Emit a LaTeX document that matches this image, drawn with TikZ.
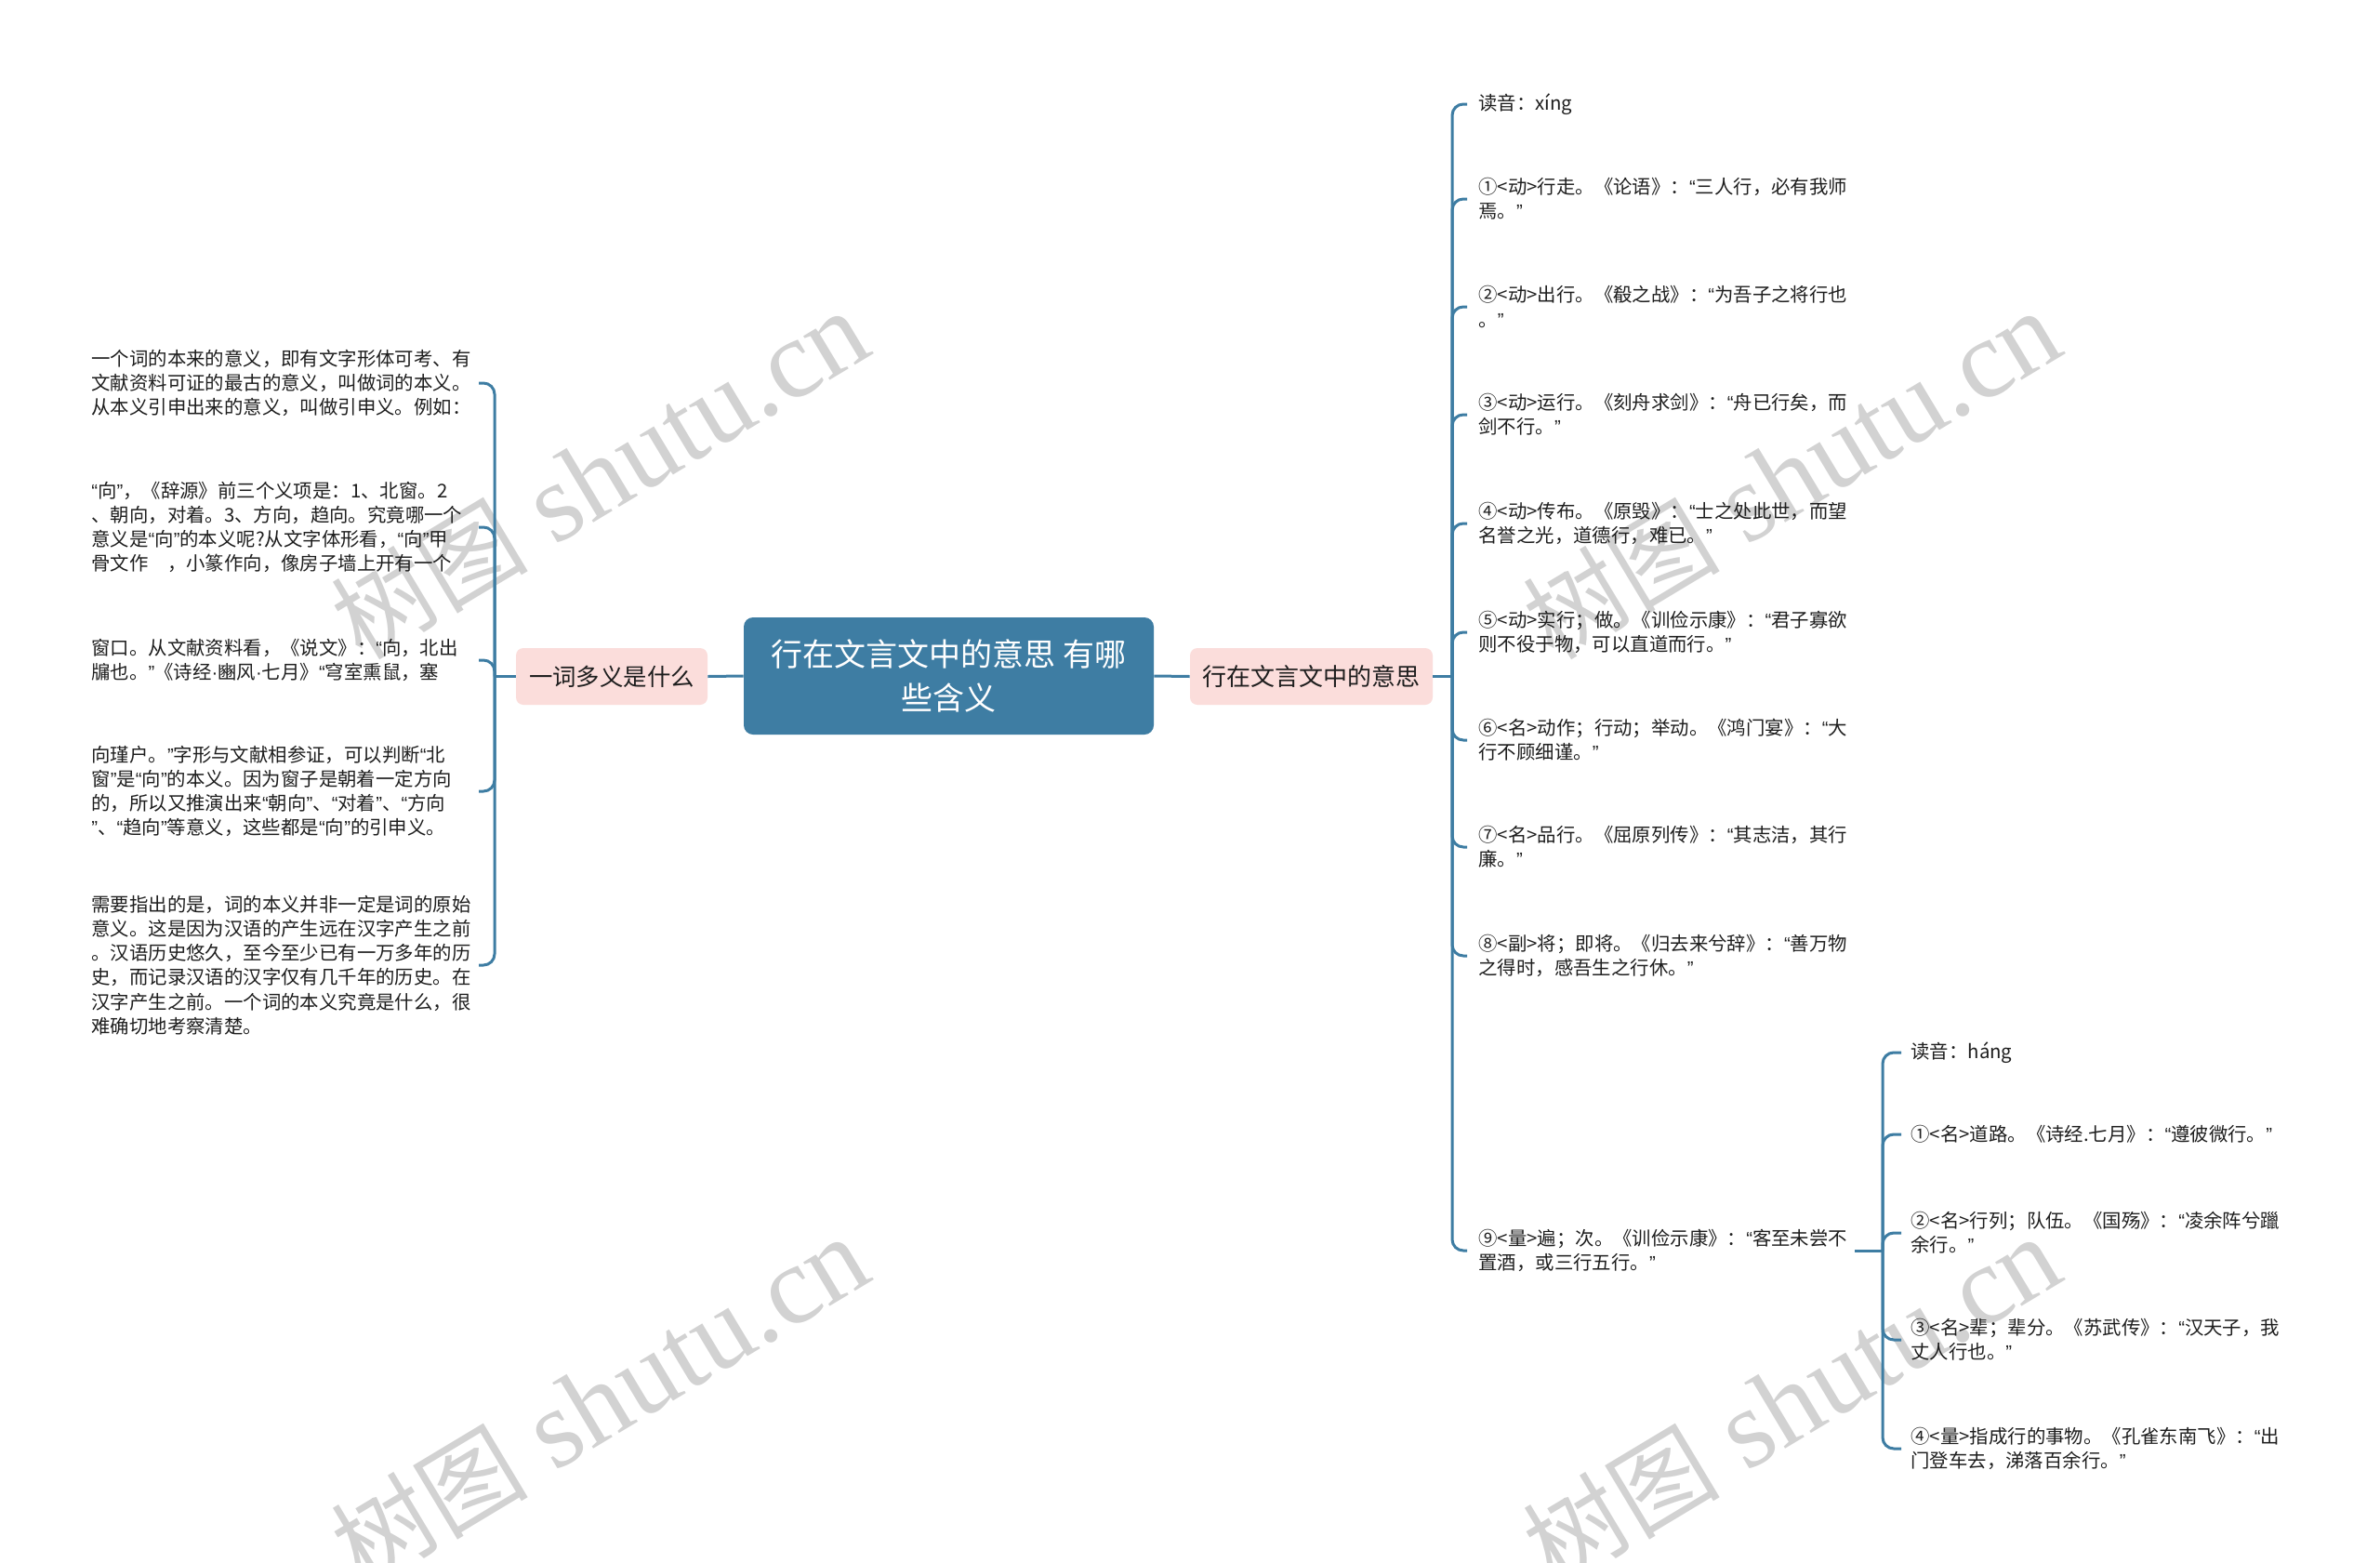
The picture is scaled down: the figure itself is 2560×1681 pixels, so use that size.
\documentclass[tikz,border=0pt]{standalone}
\usepackage{fontspec}
\newfontfamily\cjk{Noto Sans CJK SC}
\newfontfamily\wmlat{Liberation Serif}
\newfontfamily\qfont{Liberation Sans}
\newcommand\oq{{\qfont “}}
\newcommand\cq{{\qfont ”}}
\newcommand\md{{\qfont ·}}
\definecolor{mainblue}{RGB}{62,125,163}
\definecolor{pinkfill}{RGB}{251,221,219}
\definecolor{wmgray}{RGB}{210,210,210}
\definecolor{txtcol}{RGB}{30,30,30}
\begin{document}
\begin{tikzpicture}[x=0.5pt,y=-0.5pt,
  conn/.style={draw=mainblue,line width=1.5pt},
  hook/.style={conn,rounded corners=6pt},
  txt/.style={font=\cjk\fontsize{10.2pt}{13.1pt}\selectfont,align=left,inner sep=0pt,anchor=west,text=txtcol},
  topic/.style={fill=pinkfill,rounded corners=4pt,minimum height=30.5pt,inner sep=0pt,text=txtcol},
  wm/.style={text=wmgray,rotate=31,inner sep=0pt}]
\useasboundingbox (0,0) rectangle (2560,1681);
\fill[white] (0,0) rectangle (2560,1681);
\begin{scope}
\clip (0,0) rectangle (2560,1681);
\foreach \p [count=\i] in {(645,511),(1927,511),(645,1507),(1927,1507)}
  \node[wm] (wm\i) at \p {{\cjk\fontsize{53pt}{53pt}\selectfont 树图}{\wmlat\fontsize{60pt}{60pt}\selectfont\ shutu.cn}};
\end{scope}

% central and topic nodes
\node[fill=mainblue,rounded corners=5pt,minimum width=220.5pt,minimum height=63pt,inner sep=0pt,text=white,align=center,font=\cjk\fontsize{17pt}{23.5pt}\selectfont] (root) at (1020.5,727) {行在文言文中的意思 有哪\\些含义};
\node[topic,minimum width=103pt,font=\cjk\fontsize{12.7pt}{15pt}\selectfont] (lt) at (658,727.5) {一词多义是什么};
\node[topic,minimum width=130.5pt,font=\cjk\fontsize{13pt}{15pt}\selectfont] (rt) at (1410.5,727.5) {行在文言文中的意思};

\coordinate (lj) at (532,727.5);
\coordinate (lh) at (515,0);
\coordinate (rj) at (1562,727.5);
\coordinate (sj) at (2025,1345);

% left texts
\node[txt] (l1) at (98,412) {一个词的本来的意义，即有文字形体可考、有\\文献资料可证的最古的意义，叫做词的本义。\\从本义引申出来的意义，叫做引申义。例如：};
\node[txt] (l2) at (98,567) {\oq{}向\cq{}，《辞源》前三个义项是：1、北窗。2\\、朝向，对着。3、方向，趋向。究竟哪一个\\意义是\oq{}向\cq{}的本义呢?从文字体形看，\oq{}向\cq{}甲\\骨文作　，小篆作向，像房子墙上开有一个};
\node[txt] (l3) at (98,710) {窗口。从文献资料看，《说文》：\oq{}向，北出\\牖也。\cq{}《诗经\md{}豳风\md{}七月》\oq{}穹室熏鼠，塞};
\node[txt] (l4) at (98,851) {向瑾户。\cq{}字形与文献相参证，可以判断\oq{}北\\窗\cq{}是\oq{}向\cq{}的本义。因为窗子是朝着一定方向\\的，所以又推演出来\oq{}朝向\cq{}、\oq{}对着\cq{}、\oq{}方向\\\cq{}、\oq{}趋向\cq{}等意义，这些都是\oq{}向\cq{}的引申义。};
\node[txt] (l5) at (98,1038) {需要指出的是，词的本义并非一定是词的原始\\意义。这是因为汉语的产生远在汉字产生之前\\。汉语历史悠久，至今至少已有一万多年的历\\史，而记录汉语的汉字仅有几千年的历史。在\\汉字产生之前。一个词的本义究竟是什么，很\\难确切地考察清楚。};

% right texts
\node[txt] (r0) at (1590,112) {读音：xíng};
\node[txt] (r1) at (1590,214) {①<动>行走。《论语》：\oq{}三人行，必有我师\\焉。\cq{}};
\node[txt] (r2) at (1590,330) {②<动>出行。《殽之战》：\oq{}为吾子之将行也\\。\cq{}};
\node[txt] (r3) at (1590,446) {③<动>运行。《刻舟求剑》：\oq{}舟已行矣，而\\剑不行。\cq{}};
\node[txt] (r4) at (1590,563) {④<动>传布。《原毁》：\oq{}士之处此世，而望\\名誉之光，道德行，难已。\cq{}};
\node[txt] (r5) at (1590,680) {⑤<动>实行；做。《训俭示康》：\oq{}君子寡欲\\则不役于物，可以直道而行。\cq{}};
\node[txt] (r6) at (1590,796) {⑥<名>动作；行动；举动。《鸿门宴》：\oq{}大\\行不顾细谨。\cq{}};
\node[txt] (r7) at (1590,911) {⑦<名>品行。《屈原列传》：\oq{}其志洁，其行\\廉。\cq{}};
\node[txt] (r8) at (1590,1028) {⑧<副>将；即将。《归去来兮辞》：\oq{}善万物\\之得时，感吾生之行休。\cq{}};
\node[txt] (r9) at (1590,1345) {⑨<量>遍；次。《训俭示康》：\oq{}客至未尝不\\置酒，或三行五行。\cq{}};

% sub texts
\node[txt] (s0) at (2055,1132) {读音：háng};
\node[txt] (s1) at (2055,1220) {①<名>道路。《诗经.七月》：\oq{}遵彼微行。\cq{}};
\node[txt] (s2) at (2055,1326) {②<名>行列；队伍。《国殇》：\oq{}凌余阵兮躐\\余行。\cq{}};
\node[txt] (s3) at (2055,1441) {③<名>辈；辈分。《苏武传》：\oq{}汉天子，我\\丈人行也。\cq{}};
\node[txt] (s4) at (2055,1558) {④<量>指成行的事物。《孔雀东南飞》：\oq{}出\\门登车去，涕落百余行。\cq{}};

% main connectors
\draw[conn] (root.west) -- (lt.east);
\draw[conn] (lt.west) -- (lj);
\draw[conn] (root.east) -- (rt.west);
\draw[conn] (rt.east) -- (rj);
\draw[conn] ([xshift=4pt]r9.east) -- (sj);

% left bracket
\foreach \n in {l1,l2,l3,l4,l5}
  \draw[hook] (lj) |- (\n.east -| lh);
% right bracket
\foreach \n in {r0,r1,r2,r3,r4,r5,r6,r7,r8,r9}
  \draw[hook] (rj) |- ([xshift=-6pt]\n.west);
% sub bracket
\foreach \n in {s0,s1,s2,s3,s4}
  \draw[hook] (sj) |- ([xshift=-5pt]\n.west);
\end{tikzpicture}
\end{document}
